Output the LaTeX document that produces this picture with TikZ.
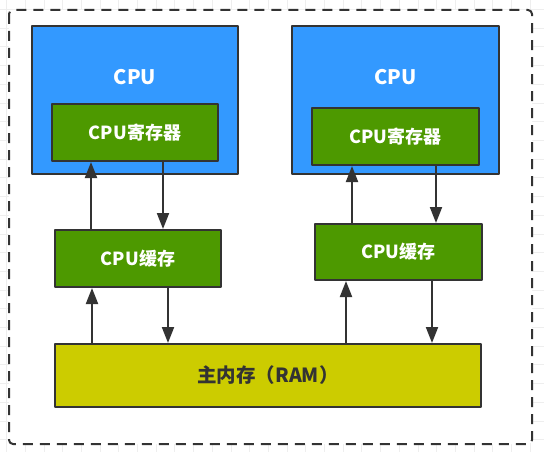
\documentclass[tikz,border=0pt]{standalone}
\usepackage{fontspec}
\setmainfont{Noto Sans CJK SC}
\usetikzlibrary{arrows.meta}

\definecolor{cpublue}{HTML}{3399FF}
\definecolor{regreen}{HTML}{4D9900}
\definecolor{ramyellow}{HTML}{CCCC00}
\definecolor{edgegray}{HTML}{333333}
\definecolor{gridgray}{HTML}{EEEEEE}

\begin{document}
\begin{tikzpicture}[x=1pt, y=-1pt, line join=round,
    box/.style={draw=edgegray, line width=2pt, inner sep=0pt},
    boxtext/.style={text=white, font=\bfseries\fontsize{18}{21}\selectfont},
    arr/.style={draw=edgegray, line width=2pt, -{Triangle[length=16pt, width=12pt]}}]
    % ১. পটভূমি ও গ্রিড (Background and grid)
    \useasboundingbox (0,0) rectangle (544,452);
    \foreach \k in {0,...,28} \draw[gridgray] ({6.3+18.7*\k},0) -- ({6.3+18.7*\k},452);
    \foreach \k in {0,...,23} \draw[gridgray] (0,{9.3+18.7*\k}) -- (544,{9.3+18.7*\k});

    % ২. বাইরের ফ্রেম (Outer dashed frame)
    \draw[edgegray, fill=white, line width=2pt, rounded corners=4pt,
          dash pattern=on 10pt off 7pt] (9,10) rectangle (532,444);

    % ৩. CPU বাক্স (CPU boxes)
    \node[box, fill=cpublue, minimum width=206pt, minimum height=148pt] (cpuL) at (135,100) {};
    \node[box, fill=cpublue, minimum width=207pt, minimum height=148pt] (cpuR) at (395.5,100) {};
    \node[boxtext, font=\bfseries\fontsize{20}{24}\selectfont] (cpuLtxt) at (135,77) {CPU};
    \node[boxtext, font=\bfseries\fontsize{20}{24}\selectfont] (cpuRtxt) at (395.5,77) {CPU};

    % রেজিস্টার (Registers)
    \node[box, boxtext, fill=regreen, minimum width=166pt, minimum height=57pt] (regL) at (135,132.5) {CPU寄存器};
    \node[box, boxtext, fill=regreen, minimum width=167pt, minimum height=57pt] (regR) at (395.5,136.5) {CPU寄存器};

    % ৪. ক্যাশ ও মেমরি (Caches and RAM)
    \node[box, boxtext, fill=regreen, minimum width=166pt, minimum height=57pt] (cacheL) at (138,258.5) {CPU缓存};
    \node[box, boxtext, fill=regreen, minimum width=167pt, minimum height=56pt] (cacheR) at (398.5,252) {CPU缓存};
    \node[box, boxtext, text=edgegray, font=\bfseries\fontsize{19.5}{23}\selectfont,
          fill=ramyellow, minimum width=426pt, minimum height=63pt] (ram) at (268,375.5) {主内存（RAM）};

    % ৫. তীর (Arrows)
    \draw[arr] (cacheL.north -| 91,0) -- (regL.south -| 91,0);
    \draw[arr] (regL.south -| 163,0) -- (cacheL.north -| 163,0);
    \draw[arr] (cacheR.north -| 352,0) -- (regR.south -| 352,0);
    \draw[arr] (regR.south -| 436,0) -- (cacheR.north -| 436,0);
    \draw[arr] (ram.north -| 92,0) -- (cacheL.south -| 92,0);
    \draw[arr] (cacheL.south -| 168,0) -- (ram.north -| 168,0);
    \draw[arr] (ram.north -| 346,0) -- (cacheR.south -| 346,0);
    \draw[arr] (cacheR.south -| 432,0) -- (ram.north -| 432,0);
\end{tikzpicture}
\end{document}
